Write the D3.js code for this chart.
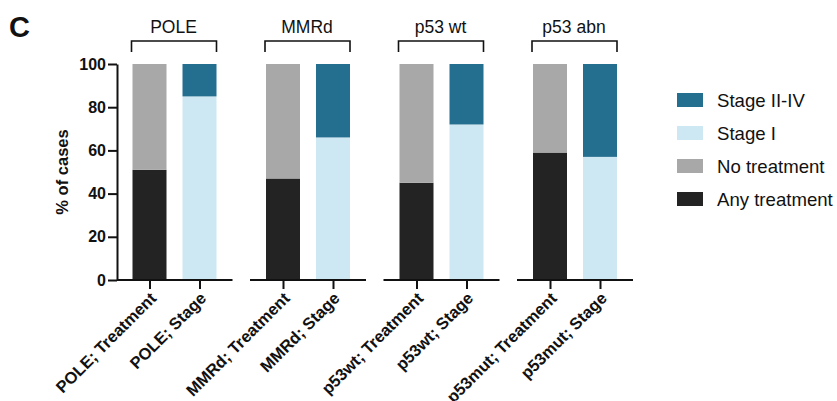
<!DOCTYPE html>
<html><head><meta charset="utf-8">
<script src="https://cdn.jsdelivr.net/npm/d3@7"></script>
<style>
body{margin:0;background:#fff;}
text{font-family:"Liberation Sans",Arial,Helvetica,sans-serif;fill:#111;}
</style></head>
<body>
<svg id="chart" width="837" height="401"></svg>
<script>
const groups = ["POLE", "MMRd", "p53 wt", "p53 abn"];
const treatmentLabels = ["POLE; Treatment", "MMRd; Treatment", "p53wt; Treatment", "p53mut; Treatment"];
const stageLabels = ["POLE; Stage", "MMRd; Stage", "p53wt; Stage", "p53mut; Stage"];
const anyTreatment = [51, 47, 45, 59];
const noTreatment = [49, 53, 55, 41];
const stageI = [85, 66, 72, 57];
const stageIIIV = [15, 34, 28, 43];
const yTicks = [0, 20, 40, 60, 80, 100];
const legendItems = ["Stage II-IV", "Stage I", "No treatment", "Any treatment"];
const colors = {"Any treatment": "#232323", "No treatment": "#a8a8a8", "Stage I": "#cde8f2", "Stage II-IV": "#246f8f"};

const svg = d3.select("#chart");
const y = d3.scaleLinear().domain([0, 100]).range([280, 64]);
const xg = d3.scaleBand().domain(groups).range([107.75, 641.75]).padding(0);
const xi = d3.scalePoint().domain(["Treatment", "Stage"]).range([-25, 25]);
const barW = 34;
const cx = g => xg(g) + xg.bandwidth() / 2;

// bars
const rows = [];
groups.forEach((g, i) => {
  rows.push({group: g, kind: "Treatment", label: treatmentLabels[i],
    segs: [{key: "Any treatment", v: anyTreatment[i]}, {key: "No treatment", v: noTreatment[i]}]});
  rows.push({group: g, kind: "Stage", label: stageLabels[i],
    segs: [{key: "Stage I", v: stageI[i]}, {key: "Stage II-IV", v: stageIIIV[i]}]});
});
rows.forEach(r => {
  let acc = 0;
  r.segs.forEach(s => { s.y0 = acc; acc += s.v; s.y1 = acc; });
});
const barG = svg.append("g");
rows.forEach(r => {
  const xc = cx(r.group) + xi(r.kind);
  barG.selectAll(null).data(r.segs).enter().append("rect")
    .attr("x", xc - barW / 2).attr("width", barW)
    .attr("y", d => y(d.y1)).attr("height", d => y(d.y0) - y(d.y1))
    .attr("fill", d => colors[d.key]);
});

// y axis
const yAxis = d3.axisLeft(y).tickValues(yTicks).tickSize(9).tickSizeOuter(0).tickPadding(2);
const yg = svg.append("g").attr("transform", "translate(117,0)").call(yAxis);
yg.select(".domain").attr("stroke", "#111").attr("stroke-width", 2);
yg.selectAll(".tick line").attr("stroke", "#111").attr("stroke-width", 2);
yg.selectAll(".tick text").attr("font-size", 16).attr("font-weight", "bold")
  .attr("font-family", "'Liberation Sans',Arial,sans-serif").attr("fill", "#111");

// x axis segments per group
groups.forEach((g, i) => {
  const c = cx(g);
  const xs = d3.scalePoint().domain([treatmentLabels[i], stageLabels[i]]).range([c - 25, c + 25]);
  const ax = d3.axisBottom(xs).tickSize(9).tickSizeOuter(0).tickPadding(0);
  const gx = svg.append("g").attr("transform", "translate(0,280)").call(ax);
  gx.select(".domain").attr("d", `M${i === 0 ? 117 : c - 58},0H${c + 58}`)
    .attr("stroke", "#111").attr("stroke-width", 2);
  gx.selectAll(".tick line").attr("stroke", "#111").attr("stroke-width", 2);
  gx.selectAll(".tick text")
    .attr("font-size", 16.5).attr("font-weight", "bold")
    .attr("font-family", "'Liberation Sans',Arial,sans-serif").attr("fill", "#111")
    .attr("text-anchor", "end").attr("dy", "0")
    .attr("transform", "translate(1,13) rotate(-45)");
  // bracket
  svg.append("path")
    .attr("d", `M${c - 43},52V41H${c + 42}V52`)
    .attr("fill", "none").attr("stroke", "#111").attr("stroke-width", 1.6);
  svg.append("text").attr("x", c - 1).attr("y", 33).attr("text-anchor", "middle")
    .attr("font-size", 17.5).text(g);
});

// y title
svg.append("text").attr("transform", "translate(68,172) rotate(-90)")
  .attr("text-anchor", "middle").attr("font-size", 16.5).attr("font-weight", "bold").text("% of cases");

// panel letter
svg.append("text").attr("x", 9).attr("y", 37).attr("font-size", 29).attr("font-weight", "bold").text("C");

// legend
const lg = svg.append("g");
legendItems.forEach((k, i) => {
  const yy = 93 + i * 33;
  lg.append("rect").attr("x", 677).attr("y", yy).attr("width", 26).attr("height", 14).attr("fill", colors[k]);
  lg.append("text").attr("x", 717).attr("y", yy + 7).attr("dy", "0.35em").attr("font-size", 18.6).text(k);
});
</script>
</body></html>
